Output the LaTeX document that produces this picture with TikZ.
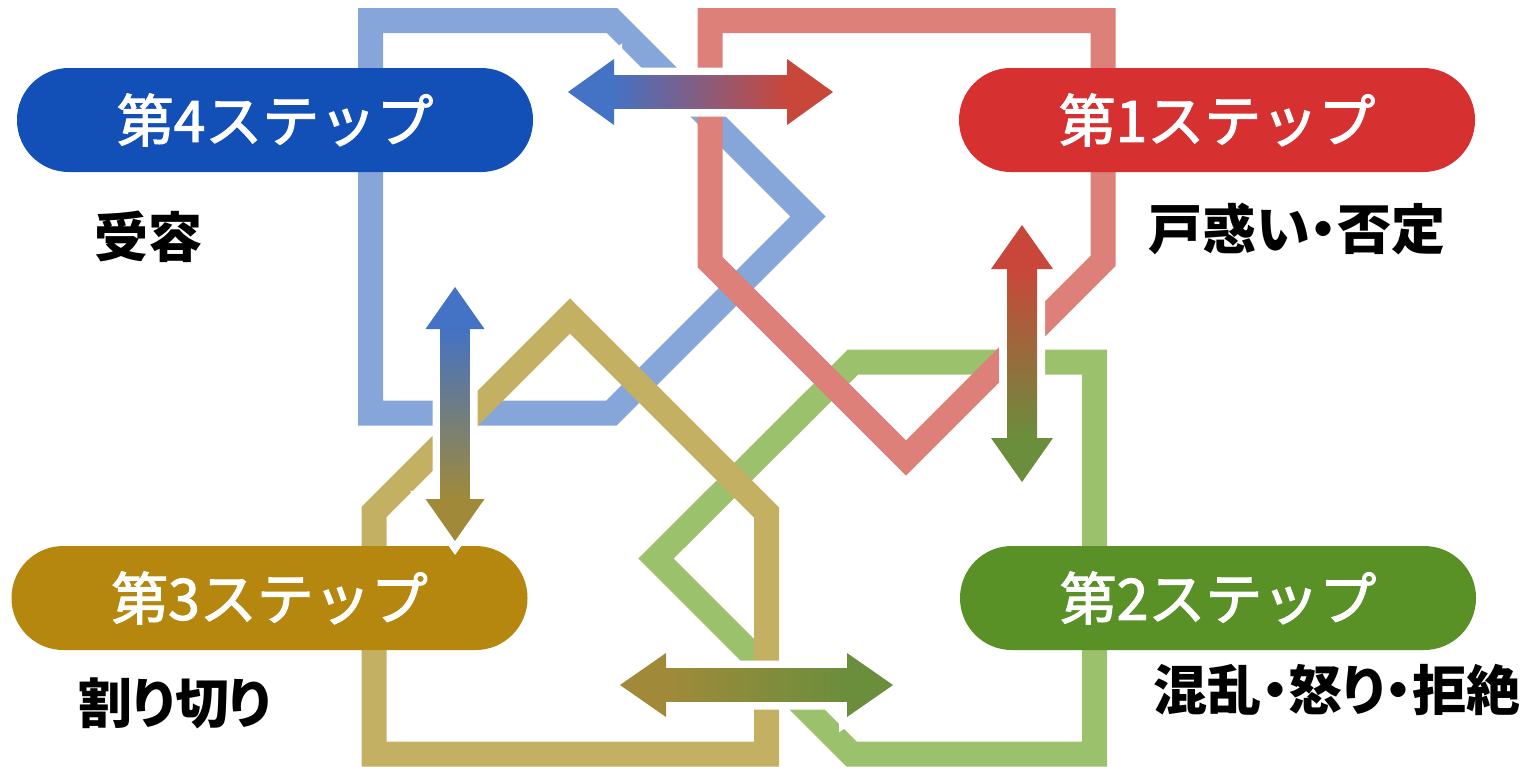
\documentclass[tikz,border=0pt]{standalone}
\usepackage{fontspec}
\newfontfamily\jp[FakeBold=2]{Noto Sans CJK JP}
\newfontfamily\jpp[RawFeature=+palt]{Noto Sans CJK JP}
\definecolor{bandblue}{HTML}{86A5D8}
\definecolor{bandred}{HTML}{DC8079}
\definecolor{bandgreen}{HTML}{9CC16D}
\definecolor{bandyellow}{HTML}{C4B062}
\definecolor{nodeblue}{HTML}{1250B7}
\definecolor{nodered}{HTML}{D63031}
\definecolor{nodegreen}{HTML}{5A9127}
\definecolor{nodeyellow}{HTML}{B5870E}
\definecolor{arrblue}{HTML}{4472C4}
\definecolor{arrred}{HTML}{C9473A}
\definecolor{arrolive}{HTML}{A08A3A}
\definecolor{arrgreen}{HTML}{6A8E3C}
\tikzset{
  band/.style={line width=12.5pt, line join=miter},
  stepbox/.style={rounded corners=25.9pt, minimum width=258pt, minimum height=52pt,
    inner sep=0pt, text=white, font=\jp\fontsize{28.5pt}{28.5pt}\selectfont},
  steplabel/.style={inner sep=0pt, text=black, font=\jpp\bfseries\fontsize{27pt}{27pt}\selectfont},
  arrowgap/.style={draw=white, fill=white, line width=8pt, line join=miter}
}
% horizontal double block arrow: x1, x2, y, left colour, right colour, head length, head half width, shaft half width
\newcommand\myharrow[8]{%
  \path[arrowgap] (#1,#3) -- ({#1+#6},{#3-#7}) -- ({#1+#6},{#3-#8}) -- ({#2-#6},{#3-#8}) -- ({#2-#6},{#3-#7}) -- (#2,#3)
     -- ({#2-#6},{#3+#7}) -- ({#2-#6},{#3+#8}) -- ({#1+#6},{#3+#8}) -- ({#1+#6},{#3+#7}) -- cycle;
  \shade[left color=#4, right color=#5] ({#1+#6-1},{#3-#8}) rectangle ({#2-#6+1},{#3+#8});
  \fill[#4] (#1,#3) -- ({#1+#6},{#3-#7}) -- ({#1+#6},{#3+#7}) -- cycle;
  \fill[#5] (#2,#3) -- ({#2-#6},{#3-#7}) -- ({#2-#6},{#3+#7}) -- cycle;
}
% vertical double block arrow: x, ytop, ybottom, top colour, bottom colour, head length, head half width, shaft half width
\newcommand\myvarrow[8]{%
  \path[arrowgap] (#1,#2) -- ({#1+#7},{#2+#6}) -- ({#1+#8},{#2+#6}) -- ({#1+#8},{#3-#6}) -- ({#1+#7},{#3-#6}) -- (#1,#3)
     -- ({#1-#7},{#3-#6}) -- ({#1-#8},{#3-#6}) -- ({#1-#8},{#2+#6}) -- ({#1-#7},{#2+#6}) -- cycle;
  \shade[top color=#4, bottom color=#5] ({#1-#8},{#2+#6-1}) rectangle ({#1+#8},{#3-#6+1});
  \fill[#4] (#1,#2) -- ({#1+#7},{#2+#6}) -- ({#1-#7},{#2+#6}) -- cycle;
  \fill[#5] (#1,#3) -- ({#1+#7},{#3-#6}) -- ({#1-#7},{#3-#6}) -- cycle;
}
\begin{document}
\begin{tikzpicture}[x=0.5pt,y=-0.5pt]
\useasboundingbox (0,0) rectangle (1535,766);
% bands
\draw[band, bandblue] (370.5,20.5) -- (612,20.5) -- (808,216.5) -- (611.5,413) -- (370.5,413) -- cycle;
\draw[band, bandgreen] (853,362) -- (1094.5,362) -- (1094.5,754) -- (851.5,754) -- (656,558.5) -- cycle;
\draw[band, bandyellow] (570,316) -- (766.5,512.5) -- (766.5,754) -- (374,754) -- (374,512) -- cycle;
\draw[band, bandred] (710,20.5) -- (1103,20.5) -- (1103,261) -- (906,458) -- (710,262) -- cycle;
% step boxes
\node[stepbox, fill=nodeblue] (s4) at (275,120) {第4ステップ};
\node[stepbox, fill=nodered] (s1) at (1217,120) {第1ステップ};
\node[stepbox, fill=nodeyellow] (s3) at (269.5,598) {第3ステップ};
\node[stepbox, fill=nodegreen] (s2) at (1218,598) {第2ステップ};
% labels
\node[steplabel] (l4) at (148,237) {受容};
\node[steplabel] (l1) at (1297,229) {戸惑い・否定};
\node[steplabel] (l3) at (175,703) {割り切り};
\node[steplabel] (l2) at (1337,690) {混乱・怒り・拒絶};
% arrows
\myharrow{568}{833}{92}{arrblue}{arrred}{46}{33}{16.5}
\myharrow{620}{893}{685}{arrolive}{arrgreen}{46}{32}{16.5}
\myvarrow{1022}{225}{482}{arrred}{arrgreen}{44}{31}{15}
\myvarrow{455}{287}{541}{arrblue}{arrolive}{42}{29.5}{14.5}
\end{tikzpicture}
\end{document}
